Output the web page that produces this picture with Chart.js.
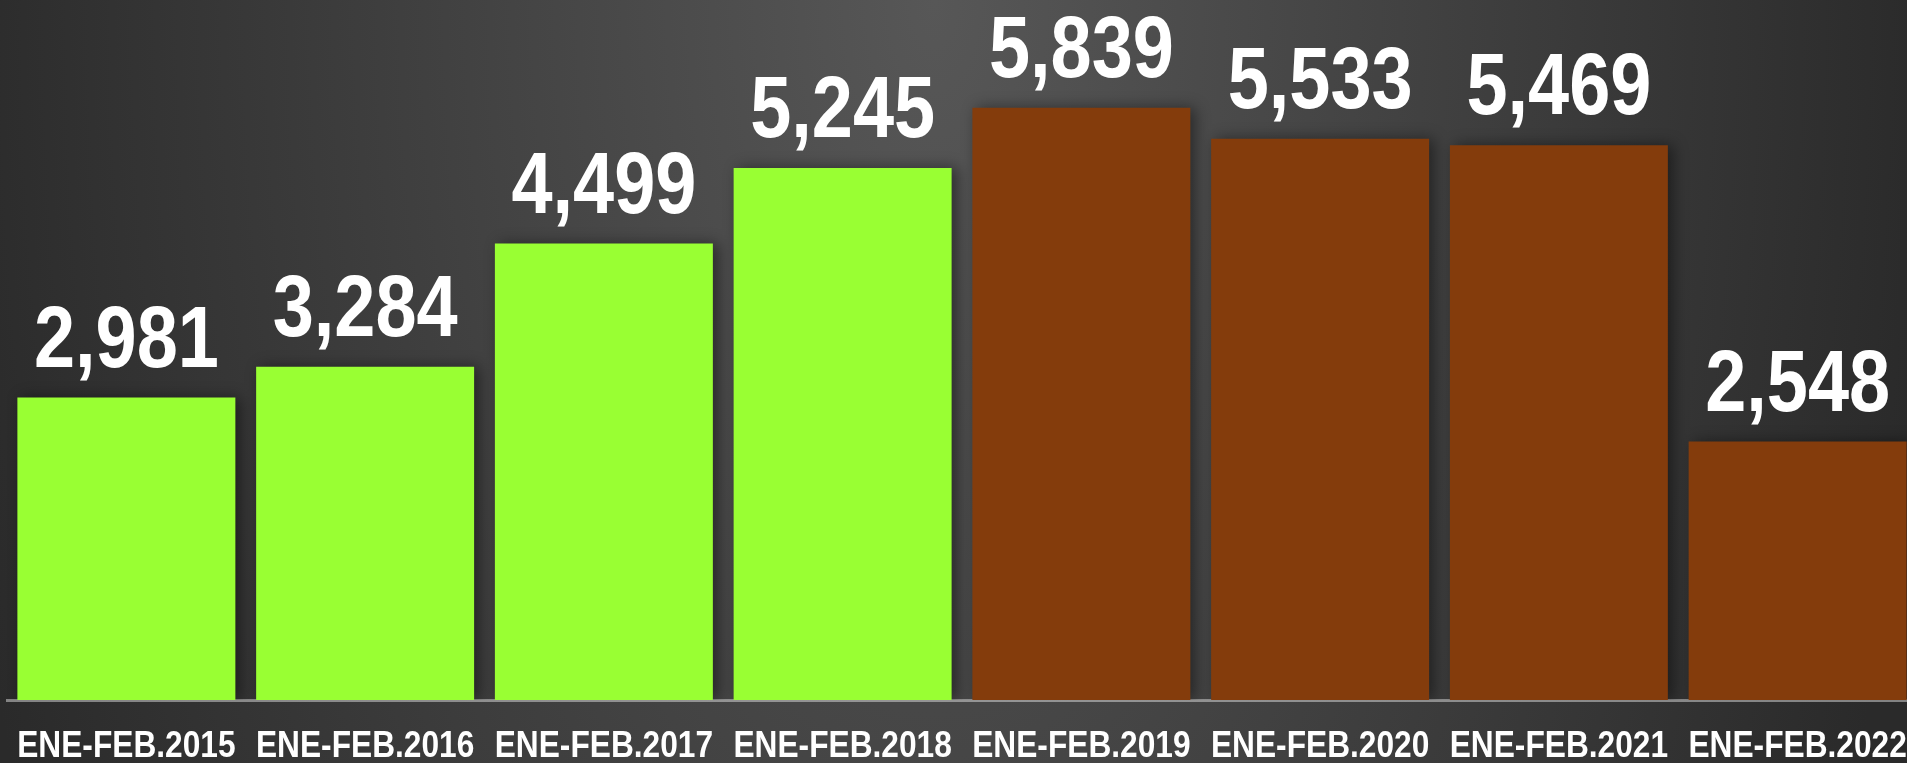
<!DOCTYPE html>
<html>
<head>
<meta charset="utf-8">
<script src="https://cdn.jsdelivr.net/npm/chart.js@4/dist/chart.umd.min.js"></script>
<style>
	html, body {
		margin: 0;
		padding: 0;
		width: 1907px;
		height: 763px;
		overflow: hidden;
		background: radial-gradient(ellipse 1000px 2000px at 49% 0%, #575757 0%, #2a2a2a 100%);
	}
	#wrap {
		position: absolute;
		left: 0;
		top: 0;
		width: 1917px;
		height: 763px;
	}
</style>
</head>
<body>
<div id="wrap"><canvas id="salesChart"></canvas></div>
<script>
const periods = ['ENE-FEB.2015', 'ENE-FEB.2016', 'ENE-FEB.2017', 'ENE-FEB.2018', 'ENE-FEB.2019', 'ENE-FEB.2020', 'ENE-FEB.2021', 'ENE-FEB.2022'];
const values = [2981, 3284, 4499, 5245, 5839, 5533, 5469, 2548];
const barColors = ['#99ff33', '#99ff33', '#99ff33', '#99ff33', '#843c0c', '#843c0c', '#843c0c', '#843c0c'];

(() => {
	'use strict'

	// no narrow face installed, so squeeze Liberation Sans bold by hand
	const fontFamily = '"Liberation Sans", Arial, sans-serif';
	const numberFormatter = new Intl.NumberFormat('en-US', { maximumFractionDigits: 0 });

	function drawNarrow(ctx, text, x, y, squeeze) {
		ctx.save();
		ctx.translate(x, y);
		ctx.scale(squeeze, 1);
		ctx.fillText(text, 0, 0);
		ctx.restore();
	}

	// soft shadow to the right of each bar
	const barShadow = {
		id: 'barShadow',
		beforeDatasetDraw(chart) {
			const ctx = chart.ctx;
			ctx.save();
			ctx.shadowColor = 'rgba(0, 0, 0, 0.45)';
			ctx.shadowBlur = 14;
			ctx.shadowOffsetX = 5;
			ctx.shadowOffsetY = 0;
		},
		afterDatasetDraw(chart) {
			chart.ctx.restore();
		}
	};

	const textLabels = {
		id: 'textLabels',
		afterDraw(chart) {
			const ctx = chart.ctx;
			const meta = chart.getDatasetMeta(0);
			const xScale = chart.scales.x;
			ctx.save();
			ctx.fillStyle = '#ffffff';
			ctx.textAlign = 'center';
			ctx.textBaseline = 'alphabetic';

			ctx.font = 'bold 88px ' + fontFamily;
			meta.data.forEach((bar, index) => {
				drawNarrow(ctx, numberFormatter.format(values[index]), bar.x, bar.y - 31, 0.84);
			});

			ctx.font = 'bold 36px ' + fontFamily;
			periods.forEach((label, index) => {
				drawNarrow(ctx, label, xScale.getPixelForTick(index), chart.chartArea.bottom + 57, 0.88);
			});
			ctx.restore();
		}
	};

	new Chart(document.getElementById('salesChart'), {
		type: 'bar',
		data: {
			labels: periods,
			datasets: [{
				data: values,
				backgroundColor: barColors,
				borderWidth: 0,
				categoryPercentage: 1,
				barPercentage: 0.913
			}]
		},
		options: {
			responsive: true,
			maintainAspectRatio: false,
			animation: false,
			layout: {
				padding: { left: 7, right: 0, top: 0, bottom: 0 }
			},
			plugins: {
				legend: { display: false },
				tooltip: { enabled: false }
			},
			scales: {
				x: {
					z: 1,
					grid: { display: false, drawTicks: false },
					border: { display: true, color: 'rgba(255, 255, 255, 0.42)', width: 3 },
					ticks: { display: false },
					afterFit(scale) {
						scale.height = 63;
					}
				},
				y: {
					display: false,
					min: 0,
					max: 6900
				}
			}
		},
		plugins: [barShadow, textLabels]
	});
})()
</script>
</body>
</html>
